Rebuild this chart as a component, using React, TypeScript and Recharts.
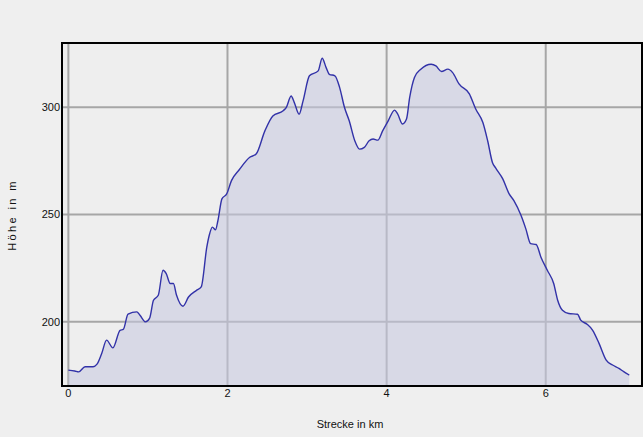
import { AreaChart, Area, XAxis, YAxis, CartesianGrid, ReferenceArea, Label } from "recharts";

// Höhenprofil: Strecke (km) und Höhe (m)
const km = [
  0, 0.08, 0.13, 0.21, 0.31, 0.36, 0.42, 0.48, 0.56, 0.65, 0.69, 0.75, 0.86, 0.9, 0.97,
  1.02, 1.07, 1.13, 1.19, 1.23, 1.28, 1.32, 1.36, 1.44, 1.51, 1.61, 1.67, 1.74, 1.77, 1.81,
  1.85, 1.88, 1.93, 1.99, 2.05, 2.15, 2.28, 2.36, 2.47, 2.57, 2.7, 2.74, 2.8, 2.84, 2.9,
  2.95, 3.03, 3.14, 3.19, 3.24, 3.28, 3.35, 3.41, 3.47, 3.53, 3.6, 3.66, 3.72, 3.78, 3.83,
  3.89, 3.95, 4.02, 4.1, 4.14, 4.2, 4.25, 4.29, 4.35, 4.43, 4.56, 4.62, 4.69, 4.77, 4.83,
  4.91, 5.04, 5.12, 5.21, 5.27, 5.33, 5.37, 5.46, 5.54, 5.6, 5.69, 5.75, 5.81, 5.88, 5.94,
  6.02, 6.1, 6.15, 6.21, 6.29, 6.4, 6.44, 6.52, 6.59, 6.67, 6.76, 6.84, 6.92, 6.98, 7.05,
];
const hoehe = [
  177.4, 177, 176.6, 179, 179, 180.2, 185.3, 191.4, 187.8, 196, 196.4, 203.5, 204.6, 203, 199.9,
  201.5, 210, 212.3, 224, 222.4, 217.8, 217.8, 212.3, 207.2, 211.5, 214.6, 216.2, 234.8, 240.2, 244.1,
  242.9, 247.2, 257.3, 259.6, 265.8, 271, 276.7, 278.2, 289, 296, 298.4, 300, 305.3, 302.2, 296.8,
  303, 314.7, 317, 322.9, 318.5, 315.4, 314.7, 309.2, 300, 293.7, 284.4, 280.5, 281.3, 284.4, 285.2,
  284.7, 289, 293.7, 298.7, 296.8, 292.2, 294.5, 304.6, 313.9, 317.8, 320.1, 319.3, 316.7, 317.8, 316.2,
  310.9, 306.3, 299.2, 292.9, 284.4, 274.3, 271.7, 266.6, 259.6, 256.5, 249.5, 243.3, 236.4, 236, 230.1,
  224, 217.8, 210, 205.3, 203.8, 203.5, 200.7, 198.8, 196, 189.9, 182.1, 179.8, 178.2, 176.7, 175.1,
];
const xTicks = [0, 2, 4, 6];
const yTicks = [200, 250, 300];

const data = km.map((k, i) => ({ km: k, hoehe: hoehe[i] }));

const FONT = "'Liberation Sans', Arial, sans-serif";

export default function App() {
  return (
    <div style={{ position: "absolute", left: 0, top: 0, width: 643, height: 437, background: "#efefef" }}>
      <AreaChart width={643} height={437} data={data} margin={{ top: 43, right: 1, bottom: 0, left: 0 }}>
        <CartesianGrid fill="#eeeeee" horizontal={false} vertical={false} />
        <XAxis
          dataKey="km"
          type="number"
          domain={[-0.08, 7.21]}
          ticks={xTicks}
          allowDataOverflow
          height={51}
          tickSize={0}
          tickMargin={3}
          axisLine={{ stroke: "#000", strokeWidth: 2 }}
          tick={{ fontSize: 11, fill: "#111", fontFamily: FONT }}
        >
          <Label
            content={() => (
              <text x={350} y={428} textAnchor="middle" fontSize={11} fill="#111" fontFamily={FONT}>
                Strecke in km
              </text>
            )}
          />
        </XAxis>
        <YAxis
          type="number"
          domain={[170, 330]}
          ticks={yTicks}
          allowDataOverflow
          width={62}
          tickSize={0}
          tickMargin={2}
          axisLine={{ stroke: "#000", strokeWidth: 2 }}
          tick={{ fontSize: 11, fill: "#111", fontFamily: FONT }}
        >
          <Label
            content={() => (
              <text
                x={16}
                y={215}
                transform="rotate(-90 16 215)"
                textAnchor="middle"
                fontSize={11}
                fill="#111"
                letterSpacing={2.4}
                fontFamily={FONT}
              >
                Höhe in m
              </text>
            )}
          />
        </YAxis>
        <Area
          type="monotone"
          dataKey="hoehe"
          stroke="#3232a8"
          strokeWidth={1.4}
          fill="#c6c8e0"
          fillOpacity={0.55}
          isAnimationActive={false}
          dot={false}
          activeDot={false}
        />
        <CartesianGrid stroke="#a6a6a6" strokeWidth={2} fill="none" />
        <ReferenceArea x1={-0.08} x2={7.21} y1={170} y2={330} fill="none" stroke="#000" strokeWidth={2} ifOverflow="visible" />
      </AreaChart>
    </div>
  );
}
